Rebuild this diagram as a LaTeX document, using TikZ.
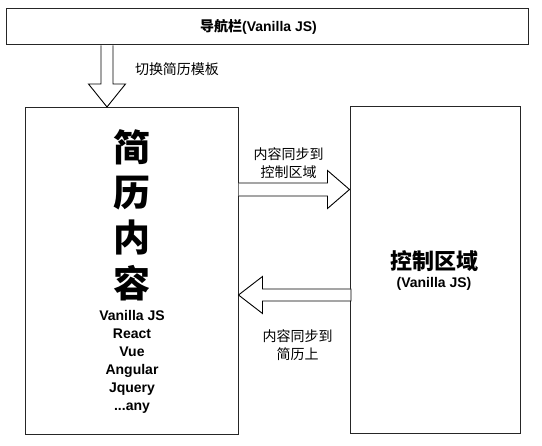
\documentclass[tikz,border=0pt]{standalone}
\usepackage{fontspec}
\setmainfont{Liberation Sans}
\newfontfamily\cjk{Noto Sans CJK SC}
\usetikzlibrary{calc}
\tikzset{
  box/.style={draw=black!85, line width=1pt, fill=white, inner sep=0pt},
  blockarrow/.style={draw=black, line width=0.9pt, fill=white, line join=miter},
  lbl/.style={font=\cjk\fontsize{14}{18}\selectfont, align=center, inner sep=0pt},
}
\begin{document}
\begin{tikzpicture}[x=1pt,y=-1pt]
\useasboundingbox (0,0) rectangle (542,446);
% boxes
\node[box, minimum width=522pt, minimum height=36pt] (top) at (267,27) {};
\node[box, minimum width=213pt, minimum height=327pt] (left) at (131.5,271) {};
\node[box, minimum width=170pt, minimum height=327pt] (right) at (435,270.5) {};
% texts
\node[anchor=base, inner sep=0pt, font=\bfseries\fontsize{14}{16}\selectfont] (toptxt) at (258.5,32) {{\cjk 导航栏}(Vanilla JS)};
\node[inner sep=0pt, align=center, font=\cjk\bfseries\fontsize{37}{45.3}\selectfont] (title) at (132,215) {简\\历\\内\\容};
\node[inner sep=0pt, align=center, font=\bfseries\fontsize{14}{18}\selectfont] (list) at (132,361.5) {Vanilla JS\\React\\Vue\\Angular\\Jquery\\...any};
\node[anchor=base, inner sep=0pt, font=\cjk\bfseries\fontsize{22}{24}\selectfont] (rtitle) at (434,270) {控制区域};
\node[anchor=base, inner sep=0pt, font=\bfseries\fontsize{14}{16}\selectfont] (rsub) at (434,288) {(Vanilla JS)};
% down arrow
\path (left.north west) ++(82.5,0) coordinate (dtip);
\coordinate (dtail) at (dtip |- top.south);
\draw[blockarrow] ($(dtail)+(-6,0)$) -- ($(dtip)+(-6,-23)$) -- ($(dtip)+(-18.5,-23)$) -- (dtip)
  -- ($(dtip)+(18.5,-23)$) -- ($(dtip)+(6,-23)$) -- ($(dtail)+(6,0)$);
\node[lbl, anchor=base] (dlbl) at (177,75) {切换简历模板};
% right arrow
\coordinate (ry) at (0,189.5);
\coordinate (rtail) at (left.east |- ry);
\coordinate (rtip) at (right.west |- ry);
\draw[blockarrow] ($(rtail)+(0,-6.5)$) -- ($(rtip)+(-22,-6.5)$) -- ($(rtip)+(-22,-19)$) -- (rtip)
  -- ($(rtip)+(-22,19)$) -- ($(rtip)+(-22,6.5)$) -- ($(rtail)+(0,6.5)$);
\node[lbl] (rlbl) at (288.5,163) {内容同步到\\控制区域};
% left arrow
\coordinate (ly) at (0,295);
\coordinate (ltip) at (left.east |- ly);
\coordinate (ltail) at ($(right.west |- ly)+(1.5,0)$);
\draw[blockarrow] ($(ltail)+(0,-6)$) -- ($(ltip)+(24,-6)$) -- ($(ltip)+(24,-18.5)$) -- (ltip)
  -- ($(ltip)+(24,18.5)$) -- ($(ltip)+(24,6)$) -- ($(ltail)+(0,6)$) -- cycle;
\node[lbl] (llbl) at (297.5,345) {内容同步到\\简历上};
\end{tikzpicture}
\end{document}
